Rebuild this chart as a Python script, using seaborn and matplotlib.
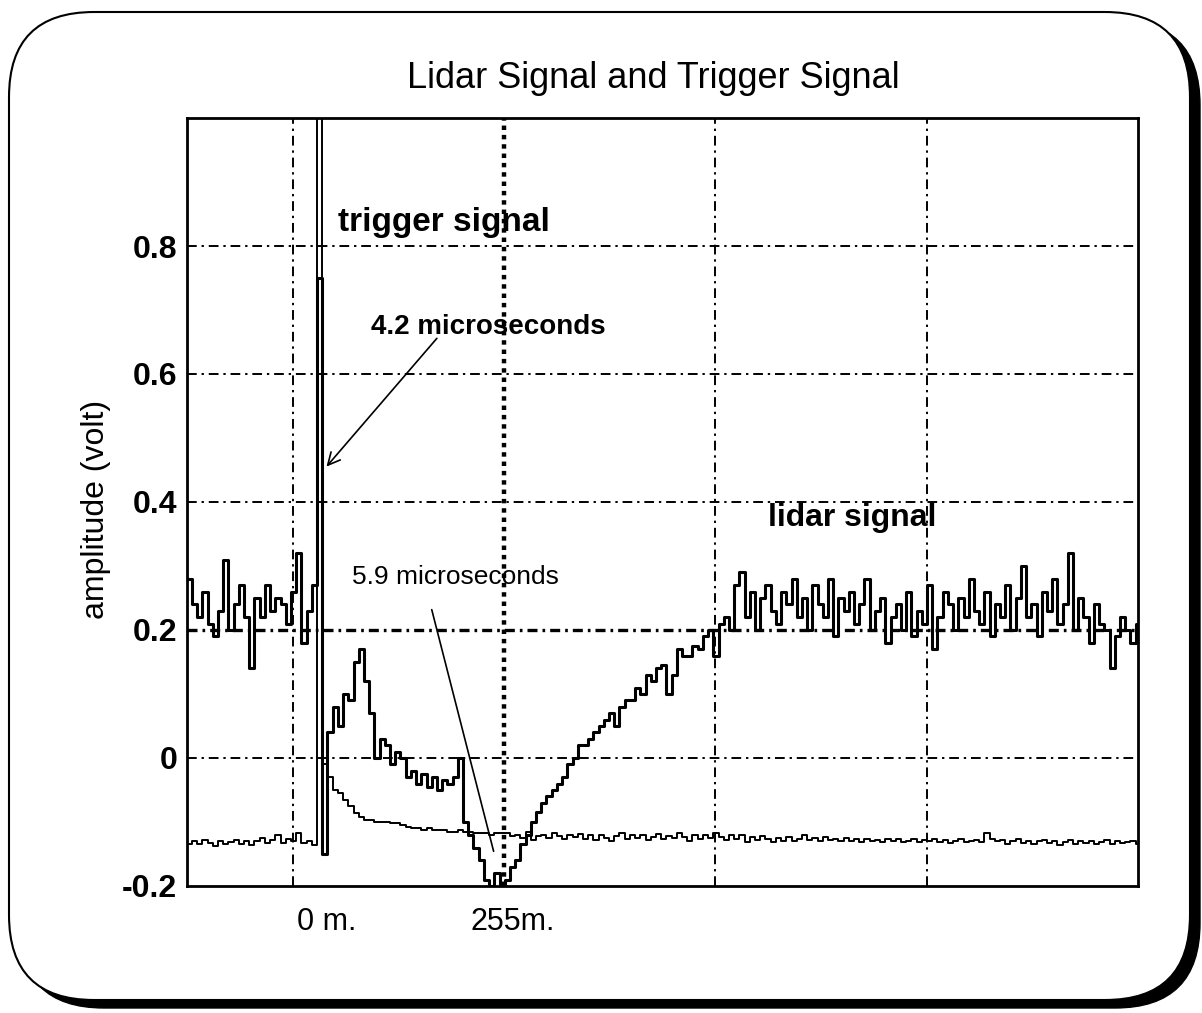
import numpy as np
import pandas as pd
import seaborn as sns
import matplotlib.pyplot as plt
from matplotlib.patches import FancyBboxPatch
from matplotlib.transforms import IdentityTransform, ScaledTranslation

# sampling grid of the scope trace (metres), 0 m = trigger
start_m = -187.5
step_m = 7.5

# lidar signal (volt), one value per sample
lidar = [
    0.28, 0.24, 0.22, 0.26, 0.21, 0.19, 0.23, 0.31, 0.20, 0.24,
    0.27, 0.22, 0.14, 0.25, 0.22, 0.27, 0.23, 0.25, 0.24, 0.21,
    0.26, 0.32, 0.18, 0.23, 0.27,
    0.75,
    -0.15, 0.04, 0.08, 0.05, 0.10, 0.09, 0.15, 0.17, 0.12, 0.07,
    0.00, 0.03, 0.02, -0.01, 0.01, 0.00, -0.03, -0.02, -0.04, -0.025,
    -0.045, -0.03, -0.05, -0.035, -0.04, -0.03, 0.00, -0.10, -0.12, -0.14,
    -0.16, -0.19, -0.20, -0.18, -0.20, -0.19, -0.17, -0.16, -0.135, -0.12,
    -0.10, -0.085, -0.07, -0.06, -0.05, -0.04, -0.03, -0.01, 0.00, 0.02,
    0.02, 0.03, 0.04, 0.05, 0.06, 0.07, 0.05, 0.08, 0.09, 0.09,
    0.11, 0.10, 0.13, 0.12, 0.14, 0.145, 0.10, 0.13, 0.17, 0.16,
    0.16, 0.175, 0.17, 0.19, 0.20, 0.16, 0.21, 0.22, 0.20, 0.27,
    0.29, 0.22, 0.26, 0.20, 0.25, 0.27, 0.23, 0.21, 0.26, 0.24,
    0.28, 0.22, 0.25, 0.20, 0.27, 0.24, 0.22, 0.28, 0.19, 0.25,
    0.23, 0.26, 0.21, 0.24, 0.28, 0.20, 0.23, 0.25, 0.18, 0.22,
    0.24, 0.20, 0.26, 0.19, 0.23, 0.21, 0.27, 0.17, 0.22, 0.26,
    0.24, 0.20, 0.25, 0.22, 0.28, 0.23, 0.21, 0.26, 0.19, 0.24,
    0.22, 0.27, 0.20, 0.25, 0.30, 0.22, 0.24, 0.19, 0.26, 0.23,
    0.28, 0.21, 0.24, 0.32, 0.20, 0.25, 0.22, 0.18, 0.24, 0.21,
    0.20, 0.14, 0.19, 0.22, 0.20, 0.18, 0.21, 0.20,
]

# trigger signal (volt), same samples; the pulse runs off the top of the screen
trigger = [
    -0.135, -0.13, -0.135, -0.128, -0.133, -0.138, -0.13, -0.135, -0.132, -0.128,
    -0.135, -0.13, -0.136, -0.13, -0.125, -0.133, -0.128, -0.12, -0.133, -0.127,
    -0.13, -0.118, -0.133, -0.13, -0.136,
    1.05,
    -0.01, -0.03, -0.05, -0.055, -0.065, -0.075, -0.086, -0.092, -0.097, -0.097,
    -0.10, -0.10, -0.10, -0.102, -0.102,
    -0.105, -0.108, -0.11, -0.11, -0.112, -0.11, -0.113, -0.113, -0.113, -0.115,
    -0.115, -0.113, -0.116, -0.115, -0.117, -0.118, -0.118, -0.12, -0.118, -0.117,
    -0.118, -0.122, -0.12, -0.125, -0.115, -0.128, -0.122, -0.12, -0.125, -0.118,
    -0.122, -0.127, -0.12, -0.124, -0.119, -0.126, -0.121, -0.128, -0.12, -0.125,
    -0.13, -0.122, -0.118, -0.126, -0.121, -0.125, -0.12, -0.128, -0.123, -0.119,
    -0.127, -0.122, -0.125, -0.118, -0.124, -0.13, -0.121, -0.126, -0.12, -0.125,
    -0.117, -0.123, -0.128, -0.121, -0.126, -0.12, -0.131, -0.124, -0.128, -0.122,
    -0.127, -0.132, -0.125, -0.129, -0.123, -0.13, -0.126, -0.121, -0.128, -0.125,
    -0.13, -0.124, -0.128, -0.126, -0.13, -0.125, -0.129, -0.127, -0.131, -0.126,
    -0.13, -0.128, -0.132, -0.127, -0.13, -0.126, -0.131, -0.129, -0.127, -0.132,
    -0.128, -0.13, -0.126, -0.131, -0.128, -0.133, -0.13, -0.127, -0.131, -0.13,
    -0.128, -0.132, -0.118, -0.126, -0.13, -0.128, -0.135, -0.13, -0.127, -0.133,
    -0.129, -0.134, -0.13, -0.128, -0.133, -0.13, -0.136, -0.131, -0.128, -0.134,
    -0.13, -0.133, -0.129, -0.135, -0.131, -0.128, -0.134, -0.13, -0.133, -0.131,
    -0.129, -0.134, -0.131,
]

y_ticks = [-0.2, 0, 0.2, 0.4, 0.6, 0.8]
y_ticklabels = ["-0.2", "0", "0.2", "0.4", "0.6", "0.8"]
x_ticks = [0, 255]
x_ticklabels = ["0 m.", "255m."]
x_grid = [-35, 269, 573, 877]

distance = start_m + step_m * np.arange(len(lidar))
df_lidar = pd.DataFrame({"distance": distance, "amplitude": lidar})
df_trig = pd.DataFrame({"distance": distance, "amplitude": trigger})

sns.set_style("white")
plt.rcParams["font.family"] = ["Liberation Sans", "DejaVu Sans"]
plt.rcParams["text.color"] = "black"
plt.rcParams["axes.labelcolor"] = "black"
plt.rcParams["xtick.color"] = "black"
plt.rcParams["ytick.color"] = "black"

fig = plt.figure(figsize=(12.02, 10.13), dpi=100, facecolor="white")

# rounded frame with drop shadow (pixel coordinates)
shadow = FancyBboxPatch((19, 5), 1181, 988, boxstyle="round,pad=0,rounding_size=85",
                        transform=IdentityTransform(), facecolor="black",
                        edgecolor="black", zorder=-3)
frame = FancyBboxPatch((9, 13), 1181, 988, boxstyle="round,pad=0,rounding_size=85",
                       transform=IdentityTransform(), facecolor="white",
                       edgecolor="black", linewidth=1.5, zorder=-2)
fig.add_artist(shadow)
fig.add_artist(frame)

ax = fig.add_axes([0.1556, 0.1254, 0.7912, 0.7581])
ax.set_facecolor("white")

# grid
for yv in [0.8, 0.6, 0.4, 0]:
    ax.axhline(yv, color="black", lw=1.4, ls=(0, (5, 2.5, 1.2, 2.5)), zorder=1)
ax.axhline(0.2, color="black", lw=2.4, ls=(0, (3, 1.5, 0.8, 1.5)), zorder=1)
for xv in x_grid:
    if xv == 269:
        ax.axvline(xv, color="black", lw=3.2, ls=(0, (1, 1.1)), zorder=1)
    else:
        ax.axvline(xv, color="black", lw=1.4, ls=(0, (5, 2.5, 1.2, 2.5)), zorder=1)

sns.lineplot(data=df_trig, x="distance", y="amplitude", ax=ax, color="black",
             lw=1.4, drawstyle="steps-post", errorbar=None, zorder=3)
sns.lineplot(data=df_lidar, x="distance", y="amplitude", ax=ax, color="black",
             lw=2.2, drawstyle="steps-post", errorbar=None, zorder=4)

ax.set_xlim(-187, 1181)
ax.set_ylim(-0.2, 1.0)
ax.set_yticks(y_ticks)
ax.set_yticklabels(y_ticklabels, fontsize=23, fontweight="bold")
ax.set_xticks(x_ticks)
ax.set_xticklabels(x_ticklabels, fontsize=22)
ax.tick_params(axis="y", length=0, pad=7)
ax.tick_params(axis="x", direction="inout", length=14, width=1.5, pad=8)
# the scope prints its distance labels a little right of the marks
for lab, dx in zip(ax.get_xticklabels(), [7, 13]):
    lab.set_transform(lab.get_transform() + ScaledTranslation(dx / 72, 0, fig.dpi_scale_trans))
ax.set_xlabel("")
ax.set_ylabel("amplitude (volt)", fontsize=23)
ax.yaxis.set_label_coords(-0.08, 0.49)

for sp in ax.spines.values():
    sp.set_visible(True)
    sp.set_color("black")
    sp.set_linewidth(2)

# labels on the screen
ax.text(30, 0.823, "trigger signal", fontsize=24, fontweight="bold", va="baseline")
ax.text(649, 0.3625, "lidar signal", fontsize=23, fontweight="bold", va="baseline")
ax.text(77, 0.6625, "4.2 microseconds", fontsize=20, fontweight="bold", va="baseline")
ax.text(51, 0.272, "5.9 microseconds", fontsize=19, va="baseline")
ax.annotate("", xy=(11, 0.452), xytext=(175, 0.659),
            arrowprops=dict(arrowstyle="->", color="black", lw=1.2,
                            mutation_scale=22))
ax.annotate("", xy=(255, -0.15), xytext=(164, 0.236),
            arrowprops=dict(arrowstyle="-", color="black", lw=1.2))

fig.text(653 / 1202, 0.913, "Lidar Signal and Trigger Signal", fontsize=26,
         ha="center", va="baseline")

fig.savefig("out.png", dpi=100, facecolor="white")
